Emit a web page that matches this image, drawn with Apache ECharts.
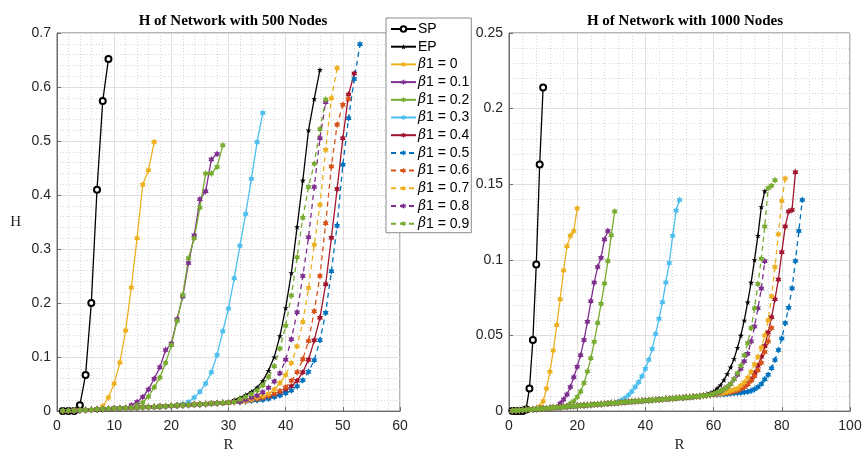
<!DOCTYPE html>
<html><head><meta charset="utf-8">
<script src="https://cdn.jsdelivr.net/npm/echarts/dist/echarts.min.js"></script>
<style>html,body{margin:0;padding:0;background:#fff}#c{width:866px;height:458px}</style>
</head><body><div id="c"></div>
<script>
// ---------- data ----------
const seriesNames = ['SP','EP','β1 = 0','β1 = 0.1','β1 = 0.2','β1 = 0.3','β1 = 0.4','β1 = 0.5','β1 = 0.6','β1 = 0.7','β1 = 0.8','β1 = 0.9'];
const xTicks500 = [0,10,20,30,40,50,60];
const yTicks500 = [0,0.1,0.2,0.3,0.4,0.5,0.6,0.7];
const xTicks1000 = [0,20,40,60,80,100];
const yTicks1000 = [0,0.05,0.1,0.15,0.2,0.25];

// shared low part of the curves (R = 1, 2, 3, ...)
const base500 = [0.0005,0.0008,0.0012,0.0017,0.0022,0.0027,0.0032,0.0037,0.0042,0.0047,
  0.0052,0.0057,0.0062,0.0067,0.0072,0.0077,0.0082,0.0087,0.0092,0.0097,
  0.0102,0.0108,0.0114,0.012,0.0126,0.0132,0.0139,0.0146,0.0153,0.016,
  0.0168,0.0176,0.0185,0.0195,0.0205];
const base1000 = [0.0002,0.0004,0.0005,0.0007,0.0009,0.0011,0.0012,0.0014,0.0016,0.0018,
  0.0019,0.0021,0.0023,0.0025,0.0026,0.0028,0.003,0.0032,0.0033,0.0035,
  0.0037,0.0039,0.004,0.0042,0.0044,0.0046,0.0047,0.0049,0.0051,0.0053,
  0.0054,0.0056,0.0058,0.006,0.0061,0.0063,0.0065,0.0067,0.0068,0.007,
  0.0072,0.0074,0.0075,0.0077,0.0079,0.0081,0.0082,0.0084,0.0086,0.0088,
  0.0089,0.0091,0.0093,0.0095,0.0097,0.0099,0.0101,0.0104,0.0107,0.011];

// 500 nodes: each curve = base up to R=from-1, then its own values
const sp500 = {full:[0,0,0,0.011,0.067,0.2,0.41,0.574,0.652]};
const ep500 = {from:31, h:[0.021,0.025,0.03,0.036,0.044,0.056,0.075,0.1,0.139,0.191,0.256,0.341,0.427,0.52,0.578,0.632]};
const b0_500 = {from:8, h:[0.009,0.025,0.051,0.09,0.149,0.229,0.32,0.419,0.446,0.498]};
const b1_500 = {from:13, h:[0.011,0.017,0.026,0.04,0.06,0.081,0.113,0.125,0.17,0.212,0.274,0.325,0.392,0.407,0.466,0.476]};
const b2_500 = {from:14, h:[0.011,0.016,0.027,0.044,0.062,0.089,0.122,0.167,0.215,0.283,0.32,0.377,0.44,0.44,0.452,0.492]};
const b3_500 = {from:22, h:[0.013,0.017,0.025,0.036,0.051,0.072,0.104,0.148,0.19,0.246,0.306,0.365,0.43,0.498,0.552]};
const b4_500 = {from:34, h:[0.02,0.021,0.023,0.025,0.028,0.032,0.038,0.046,0.056,0.072,0.095,0.131,0.173,0.235,0.321,0.411,0.505,0.586,0.625]};
const b5_500 = {from:32, h:[0.017,0.018,0.019,0.02,0.021,0.023,0.026,0.029,0.033,0.038,0.046,0.057,0.073,0.094,0.131,0.182,0.259,0.343,0.456,0.542,0.615,0.679]};
const b6_500 = {from:34, h:[0.021,0.023,0.025,0.028,0.032,0.037,0.044,0.056,0.072,0.096,0.13,0.185,0.25,0.348,0.453,0.53,0.567,0.578]};
const b7_500 = {from:34, h:[0.022,0.025,0.028,0.032,0.04,0.052,0.067,0.089,0.12,0.165,0.228,0.308,0.382,0.484,0.579,0.635]};
const b8_500 = {from:33, h:[0.021,0.025,0.029,0.035,0.043,0.055,0.07,0.095,0.133,0.183,0.25,0.322,0.415,0.505,0.572]};
const b9_500 = {from:32, h:[0.022,0.026,0.031,0.038,0.048,0.063,0.083,0.116,0.158,0.214,0.285,0.358,0.415,0.458,0.522,0.577]};

// 1000 nodes
const sp1000 = {full:[0,0,0,0,0.001,0.015,0.047,0.097,0.163,0.214]};
const ep1000 = {from:56, h:[0.0105,0.011,0.0115,0.012,0.013,0.015,0.0172,0.0205,0.0245,0.029,0.0345,0.042,0.05,0.06,0.072,0.085,0.1,0.116,0.135,0.1455]};
const b0_1000 = {from:9, h:[0.003,0.0065,0.015,0.026,0.04,0.057,0.074,0.093,0.109,0.116,0.119,0.134]};
const b1_1000 = {from:15, h:[0.005,0.0077,0.011,0.016,0.0224,0.0294,0.037,0.047,0.059,0.0726,0.085,0.0953,0.1014,0.1134,0.119]};
const b2_1000 = {from:18, h:[0.005,0.0065,0.0094,0.013,0.0185,0.0262,0.0349,0.0458,0.0582,0.0709,0.0844,0.0993,0.1163,0.132]};
const b3_1000 = {from:32, h:[0.0062,0.0072,0.0085,0.0105,0.013,0.016,0.019,0.023,0.028,0.034,0.041,0.051,0.061,0.072,0.085,0.098,0.116,0.1326,0.1396]};
const b4_1000 = {from:61, h:[0.0112,0.0114,0.0116,0.0118,0.012,0.0125,0.013,0.014,0.016,0.018,0.021,0.025,0.03,0.036,0.043,0.052,0.062,0.074,0.087,0.105,0.122,0.132,0.133,0.158]};
const b5_1000 = {from:61, h:[0.0108,0.011,0.0112,0.0114,0.0116,0.0118,0.012,0.0122,0.0125,0.0128,0.0135,0.0145,0.016,0.018,0.021,0.024,0.0284,0.0338,0.0404,0.048,0.0582,0.0683,0.0813,0.0993,0.119,0.1396]};
const b6_1000 = {from:61, h:[0.0112,0.0115,0.0118,0.0121,0.0125,0.013,0.0137,0.0147,0.016,0.0178,0.02,0.023,0.027,0.032,0.039,0.046,0.055]};
const b7_1000 = {from:61, h:[0.0113,0.0117,0.0122,0.0128,0.0135,0.0143,0.015,0.017,0.019,0.022,0.026,0.031,0.036,0.042,0.05,0.06,0.076,0.0953,0.117,0.139,0.1538]};
const b8_1000 = {from:60, h:[0.0112,0.012,0.013,0.0145,0.016,0.018,0.021,0.024,0.028,0.033,0.038,0.046,0.056,0.068,0.081,0.099]};
const b9_1000 = {from:60, h:[0.0115,0.0123,0.0133,0.0145,0.016,0.018,0.021,0.025,0.03,0.037,0.045,0.055,0.068,0.084,0.1008,0.122,0.1473,0.149,0.1527]};

const specs500 = [sp500,ep500,b0_500,b1_500,b2_500,b3_500,b4_500,b5_500,b6_500,b7_500,b8_500,b9_500];
const specs1000 = [sp1000,ep1000,b0_1000,b1_1000,b2_1000,b3_1000,b4_1000,b5_1000,b6_1000,b7_1000,b8_1000,b9_1000];

// ---------- styles ----------
const colors = ['#000000','#000000','#EDB120','#7E2F8E','#77AC30','#4DBEEE','#A2142F','#0072BD','#D95319','#EDB120','#7E2F8E','#77AC30'];
const dashed = [false,false,false,false,false,false,false,true,true,true,true,true];
const hexPath = 'path://M0,-10L2.887,-5L8.66,-5L5.774,0L8.66,5L2.887,5L0,10L-2.887,5L-8.66,5L-5.774,0L-8.66,-5L-2.887,-5Z';
const starPath = 'path://M0,-10L2.245,-3.09L9.511,-3.09L3.633,1.18L5.878,8.09L0,3.82L-5.878,8.09L-3.633,1.18L-9.511,-3.09L-2.245,-3.09Z';

function buildData(base, spec){
  const ys = spec.full ? spec.full : base.slice(0, spec.from - 1).concat(spec.h);
  return ys.map((v, i) => [i + 1, v]);
}

function makeSeries(base, specs, g){
  return specs.map((spec, k) => ({
    type:'line', name: seriesNames[k], xAxisIndex:g, yAxisIndex:g,
    data: buildData(base, spec),
    showSymbol:true, showAllSymbol:true,
    symbol: k === 0 ? 'emptyCircle' : (k === 1 ? starPath : hexPath),
    symbolSize: k === 0 ? 6 : (k === 1 ? 6 : 7),
    symbolKeepAspect:true,
    itemStyle:{color: colors[k], borderWidth: k===0?1.2:0},
    lineStyle:{color: colors[k], width:1.3, type: dashed[k] ? [5,4] : 'solid'},
    emphasis:{disabled:true}, animation:false, clip:true
  }));
}

const tickFont = {fontFamily:'Liberation Sans, Arial, sans-serif', fontSize:14, color:'#262626'};
function xAxisCfg(g, max, interval){
  return {type:'value', gridIndex:g, min:0, max:max, interval:interval,
    name:'R', nameLocation:'middle', nameGap:25,
    nameTextStyle:{fontFamily:'Liberation Serif, Times New Roman, serif', fontSize:15, color:'#262626'},
    axisLine:{show:true, onZero:false, lineStyle:{color:'#6b6b6b', width:1}},
    axisTick:{show:true, inside:true, length:4, lineStyle:{color:'#6b6b6b'}},
    axisLabel:Object.assign({margin:8}, tickFont),
    splitLine:{show:true, lineStyle:{color:'#e0e0e0', width:1}},
    minorTick:{show:false, splitNumber:5},
    minorSplitLine:{show:true, lineStyle:{color:'#d6d6d6', width:1, type:[1,2]}}
  };
}
function yAxisCfg(g, max, interval, fmt, named){
  return {type:'value', gridIndex:g, min:0, max:max, interval:interval,
    name: named ? 'H' : '', nameLocation:'middle', nameGap:36, nameRotate:0,
    nameTextStyle:{fontFamily:'Liberation Serif, Times New Roman, serif', fontSize:15, color:'#262626'},
    axisLine:{show:true, onZero:false, lineStyle:{color:'#6b6b6b', width:1}},
    axisTick:{show:true, inside:true, length:4, lineStyle:{color:'#6b6b6b'}},
    axisLabel:Object.assign({margin:6, formatter:fmt}, tickFont),
    splitLine:{show:true, lineStyle:{color:'#e0e0e0', width:1}},
    minorTick:{show:false, splitNumber:5},
    minorSplitLine:{show:true, lineStyle:{color:'#d6d6d6', width:1, type:[1,2]}}
  };
}

const chart = echarts.init(document.getElementById('c'), null, {renderer:'canvas'});
chart.setOption({
  backgroundColor:'#ffffff',
  animation:false,
  title:[
    {text:'H of Network with 500 Nodes', left:228, top:9, textAlign:'center',
     textStyle:{fontFamily:'Liberation Serif, Times New Roman, serif', fontWeight:'bold', fontSize:15, color:'#000'}},
    {text:'H of Network with 1000 Nodes', left:680, top:9, textAlign:'center',
     textStyle:{fontFamily:'Liberation Serif, Times New Roman, serif', fontWeight:'bold', fontSize:15, color:'#000'}}
  ],
  grid:[
    {left:57, top:33, width:343, height:382, show:true, borderColor:'#6b6b6b', borderWidth:1, backgroundColor:'transparent'},
    {left:509, top:33, width:341, height:382, show:true, borderColor:'#6b6b6b', borderWidth:1, backgroundColor:'transparent'}
  ],
  xAxis:[xAxisCfg(0, 60, 10), xAxisCfg(1, 100, 20)],
  yAxis:[
    yAxisCfg(0, 0.7, 0.1, v => v === 0 ? '0' : String(+v.toFixed(1)), true),
    yAxisCfg(1, 0.25, 0.05, v => v === 0 ? '0' : String(+v.toFixed(2)), false)
  ],
  legend:{
    orient:'vertical', left:386, top:18, data:seriesNames,
    itemWidth:25, itemHeight:7, itemGap:3.7,
    padding:[4,2,2,4],
    backgroundColor:'#ffffff', borderColor:'#8c8c8c', borderWidth:1, borderRadius:0,
    selectedMode:false,
    textStyle:{fontFamily:'Liberation Sans, Arial, sans-serif', fontSize:14, lineHeight:14, color:'#000', padding:[0,0,0,-3],
      rich:{g:{fontFamily:'DejaVu Serif, serif', fontStyle:'italic', fontSize:14, lineHeight:14, color:'#000'}}},
    formatter: n => n.indexOf('β') === 0 ? '{g|β}' + n.slice(1) : n
  },
  series: makeSeries(base500, specs500, 0).concat(makeSeries(base1000, specs1000, 1))
});
</script>
</body></html>
